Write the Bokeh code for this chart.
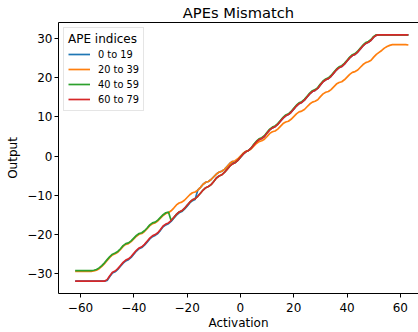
from bokeh.plotting import figure
from bokeh.models import Range1d, LinearAxis, FixedTicker, ColumnDataSource
from bokeh.embed import file_html
from bokeh.resources import INLINE

# ---- data ----
activation = list(range(-62, 64))

ape_0_19 = ([-32.0] * 12 +
    [-31.8, -30.8, -29.9, -29.6, -29.0, -28.2, -27.4, -26.8, -26.5, -25.9,
     -25.1, -24.3, -23.7, -23.4, -22.8, -22.0, -21.2, -20.6, -20.3, -19.8,
     -19.0, -18.1, -17.6, -17.3, -16.7, -15.9, -15.1, -14.5, -14.2, -13.6,
     -12.8, -12.0, -11.4, -11.1] +
    [-8.7, -8.0, -7.2, -6.7, -6.5, -6.0, -5.3, -4.6, -4.1, -3.9, -3.4, -2.7, -1.9, -1.4] +
    [-1.7, -1.1, -0.3, 0.5, 1.1, 1.4, 2.0,
     2.8, 3.6, 4.2, 4.5, 5.0, 5.9, 6.7, 7.2, 7.5, 8.1,
     8.9, 9.7, 10.3, 10.6, 11.2, 12.0, 12.8, 13.4, 13.7, 14.3,
     15.1, 15.9, 16.5, 16.8, 17.3, 18.2, 19.0, 19.5, 19.8, 20.4,
     21.2, 22.0, 22.6, 22.9, 23.5, 24.3, 25.1, 25.7, 26.0, 26.6,
     27.4, 28.2, 28.8, 29.1, 29.6, 30.4, 30.9] +
    [31.0] * 12)

ape_20_39 = ([-29.5] * 7 +
    [-29.4, -29.2, -28.8, -28.2, -27.5, -26.7, -25.9, -25.3, -25.0, -24.6,
     -23.9, -23.1, -22.6, -22.4, -21.9, -21.2, -20.5, -20.0, -19.8, -19.3,
     -18.6, -17.8, -17.3, -17.1, -16.6, -15.9, -15.2, -14.7, -14.5, -14.0,
     -13.3, -12.5, -12.0, -11.8, -11.3, -10.6, -9.9, -9.4, -9.2, -8.7,
     -8.0, -7.2, -6.7, -6.5, -6.0, -5.3, -4.6, -4.1, -3.9, -3.4,
     -2.7, -1.9, -1.4, -1.2, -0.7, 0.0, 0.7, 1.2, 1.4, 1.8,
     2.5, 3.2, 3.7, 3.9, 4.3, 5.0, 5.8, 6.2, 6.4, 6.9,
     7.6, 8.3, 8.7, 8.9, 9.4, 10.1, 10.8, 11.3, 11.5, 11.9,
     12.6, 13.3, 13.8, 14.0, 14.4, 15.2, 15.9, 16.3, 16.5, 17.0,
     17.7, 18.4, 18.8, 19.0, 19.5, 20.2, 20.9, 21.4, 21.6, 22.0,
     22.7, 23.4, 23.9, 24.1, 24.5, 25.3, 26.0, 26.5, 27.0, 27.6,
     28.0, 28.3, 28.5] +
    [28.5] * 5 + [28.4])

ape_40_59 = ([-29.3] * 7 +
    [-29.2, -29.0, -28.6, -28.0, -27.3, -26.5, -25.7, -25.1, -24.8, -24.4,
     -23.7, -22.9, -22.4, -22.2, -21.7, -21.0, -20.3, -19.8, -19.6, -19.1,
     -18.4, -17.6, -17.1, -16.9, -16.4, -15.7, -15.0, -14.5, -14.3] +
    [-16.5, -15.7, -14.9, -14.3, -14.0, -13.4, -12.6, -11.8, -11.2, -10.9,
     -10.3, -9.5, -8.7, -8.1, -7.8, -7.3, -6.5, -5.6, -5.1, -4.8,
     -4.2, -3.4, -2.6, -2.0, -1.7, -1.1, -0.3, 0.5, 1.1, 1.4, 2.0] +
    [3.0, 3.8, 4.4, 4.7, 5.2, 6.1, 6.9, 7.4, 7.7, 8.3,
     9.1, 9.9, 10.5, 10.8, 11.4, 12.2, 13.0, 13.6, 13.9, 14.5,
     15.3, 16.1, 16.7, 17.0, 17.5, 18.4, 19.2, 19.7, 20.0, 20.6,
     21.4, 22.2, 22.8, 23.1, 23.7, 24.5, 25.3, 25.9, 26.2, 26.8,
     27.6, 28.4, 29.0, 29.3, 29.8, 30.6, 31.0] +
    [31.0] * 12)

ape_60_79 = ([-32.0] * 12 +
    [-31.6, -30.6, -29.7, -29.4, -28.8,
     -28.0, -27.2, -26.6, -26.3, -25.7, -24.9, -24.1, -23.5, -23.2, -22.6,
     -21.8, -21.0, -20.4, -20.1, -19.6, -18.8, -17.9, -17.4, -17.1, -16.5,
     -15.7, -14.9, -14.3, -14.0, -13.4, -12.6, -11.8, -11.2, -10.9, -10.3,
     -9.5, -8.7, -8.1, -7.8, -7.3, -6.5, -5.6, -5.1, -4.8, -4.2,
     -3.4, -2.6, -2.0, -1.7, -1.1, -0.3, 0.5, 1.1, 1.4, 2.0,
     2.8, 3.6, 4.2, 4.5, 5.0, 5.9, 6.7, 7.2, 7.5, 8.1,
     8.9, 9.7, 10.3, 10.6, 11.2, 12.0, 12.8, 13.4, 13.7, 14.3,
     15.1, 15.9, 16.5, 16.8, 17.3, 18.2, 19.0, 19.5, 19.8, 20.4,
     21.2, 22.0, 22.6, 22.9, 23.5, 24.3, 25.1, 25.7, 26.0, 26.6,
     27.4, 28.2, 28.8, 29.1, 29.6, 30.4, 30.9] +
    [31.0] * 12)

series_labels = ["0 to 19", "20 to 39", "40 to 59", "60 to 79"]
series_colors = ["#1f77b4", "#ff7f0e", "#2ca02c", "#d62728"]

x_ticks = [-60, -40, -20, 0, 20, 40, 60]
x_tick_labels = ["\u221260", "\u221240", "\u221220", "0", "20", "40", "60"]
y_ticks = [-30, -20, -10, 0, 10, 20, 30]
y_tick_labels = ["\u221230", "\u221220", "\u221210", "0", "10", "20", "30"]

FONT = "DejaVu Sans"

p = figure(width=418, height=332, output_backend="svg", toolbar_location=None,
           x_range=Range1d(-68.25, 66.8), y_range=Range1d(-35.15, 34.15),
           min_border_left=58, min_border_right=0, min_border_top=22,
           min_border_bottom=37, background_fill_color="white",
           border_fill_color="white", outline_line_color=None)

p.title.text = "APEs Mismatch"
p.title.align = "center"
p.title.vertical_align = "top"
p.title.text_font = FONT
p.title.text_font_style = "normal"
p.title.text_font_size = "14.7px"
p.title.text_color = "#000000"
p.title.standoff = 0

p.xgrid.visible = False
p.ygrid.visible = False

src = ColumnDataSource(dict(x=activation, a=ape_0_19, b=ape_20_39,
                            c=ape_40_59, d=ape_60_79))
for col, lbl, clr in zip(["a", "b", "c", "d"], series_labels, series_colors):
    p.line("x", col, source=src, line_color=clr, line_width=1.7,
           legend_label=lbl)

for ax, ticks, labels, name in ((p.xaxis[0], x_ticks, x_tick_labels, "Activation"),
                                (p.yaxis[0], y_ticks, y_tick_labels, "Output")):
    ax.ticker = FixedTicker(ticks=ticks)
    ax.major_label_overrides = {t: l for t, l in zip(ticks, labels)}
    ax.axis_label = name
    ax.axis_label_text_font = FONT
    ax.axis_label_text_font_style = "normal"
    ax.axis_label_text_font_size = "12px"
    ax.axis_label_text_color = "#000000"
    ax.major_label_text_font = FONT
    ax.major_label_text_font_size = "12px"
    ax.major_label_text_color = "#000000"
    ax.axis_line_color = "#000000"
    ax.axis_line_width = 1
    ax.major_tick_line_color = "#000000"
    ax.major_tick_in = 0
    ax.major_tick_out = 4
    ax.minor_tick_line_color = None

p.xaxis[0].major_label_standoff = 5
p.xaxis[0].axis_label_standoff = 1
p.yaxis[0].major_label_standoff = 2
p.yaxis[0].axis_label_standoff = 4

top = LinearAxis(ticker=FixedTicker(ticks=[]), axis_line_color="#000000",
                 axis_line_width=1, major_tick_in=0, major_tick_out=0,
                 minor_tick_in=0, minor_tick_out=0, major_label_standoff=0,
                 major_label_text_font_size="0px")
p.add_layout(top, "above")

lg = p.legend[0]
lg.location = "top_left"
lg.title = "APE indices"
lg.title_text_font = FONT
lg.title_text_font_style = "normal"
lg.title_text_font_size = "12px"
lg.title_text_color = "#000000"
lg.title_standoff = 1
lg.label_text_font = FONT
lg.label_text_font_size = "9.8px"
lg.label_text_color = "#000000"
lg.glyph_width = 22
lg.glyph_height = 14
lg.label_height = 14
lg.label_standoff = 8
lg.spacing = 1
lg.padding = 4
lg.margin = 5
lg.border_line_color = "#cccccc"
lg.border_line_width = 1
lg.background_fill_alpha = 0.8

open("out.html", "w").write(file_html(p, INLINE))
